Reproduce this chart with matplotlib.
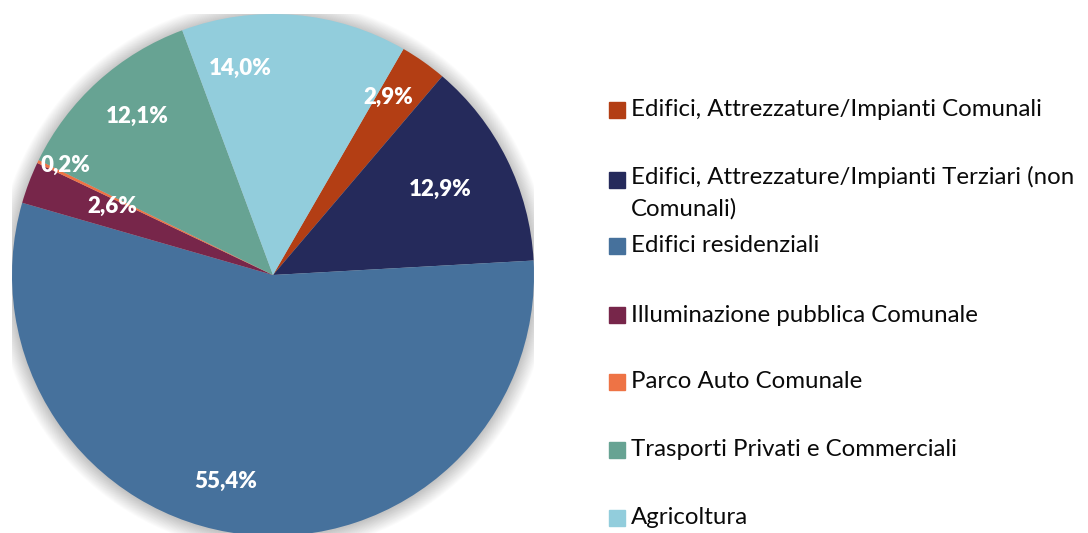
import numpy as np
import matplotlib.pyplot as plt
from matplotlib.patches import Rectangle

categories = ['Edifici, Attrezzature/Impianti Comunali',
              'Edifici, Attrezzature/Impianti Terziari (non\nComunali)',
              'Edifici residenziali',
              'Illuminazione pubblica Comunale',
              'Parco Auto Comunale',
              'Trasporti Privati e Commerciali',
              'Agricoltura']
shares = [2.9, 12.9, 55.4, 2.6, 0.2, 12.1, 14.0]
colors = ['#B33E14', '#252A5B', '#46719C', '#77264A', '#EE7345', '#67A393', '#92CDDC']

# Excel "best fit" label placement: (angle deg, radius) per slice
label_angle = [57.1, 27.0, -102.8, 157.0, 152.1, 130.7, 99.1]
label_radius = [0.81, 0.72, 0.81, 0.67, 0.90, 0.80, 0.80]

plt.rcParams['font.family'] = ['Lato', 'DejaVu Sans']

fig = plt.figure(figsize=(10.88, 5.33), dpi=100)
cx, cy, r = 273, 275, 261
ax = fig.add_axes([(cx - r) / 1088, (533 - cy - r) / 533, 2 * r / 1088, 2 * r / 533])

# soft outer shadow
for k in np.linspace(1.06, 1.0, 30):
    ax.add_patch(plt.Circle((0.0, -0.004), k, color='#707070', alpha=0.011, lw=0))

wedges, texts, autotexts = ax.pie(shares, colors=colors, startangle=60, counterclock=False,
                                  autopct=lambda p: '', radius=1.0,
                                  wedgeprops=dict(linewidth=0))
for t, v, ang, rad in zip(autotexts, shares, label_angle, label_radius):
    t.set_text(('%.1f%%' % v).replace('.', ','))
    t.set_position((rad * np.cos(np.radians(ang)), rad * np.sin(np.radians(ang))))
    t.set_color('white')
    t.set_fontweight('heavy')
    t.set_fontsize(16)
ax.set_xlim(-1, 1)
ax.set_ylim(-1, 1)
ax.set_aspect('equal')
ax.axis('off')

# legend
leg_y = [110, 180, 246, 315, 382, 450, 518]
for name, col, y in zip(categories, colors, leg_y):
    fig.patches.append(Rectangle((609 / 1088, (533 - y - 8) / 533), 16 / 1088, 16 / 533,
                                 transform=fig.transFigure, color=col, figure=fig))
    if '\n' in name:
        fig.text(631 / 1088, (533 - y + 14) / 533, name, fontsize=17.3, color='#0a0a0a',
                 va='top', ha='left', linespacing=1.55)
    else:
        fig.text(631 / 1088, (533 - y) / 533, name, fontsize=17.3, color='#0a0a0a',
                 va='center', ha='left')

fig.savefig('out.png', dpi=100)
